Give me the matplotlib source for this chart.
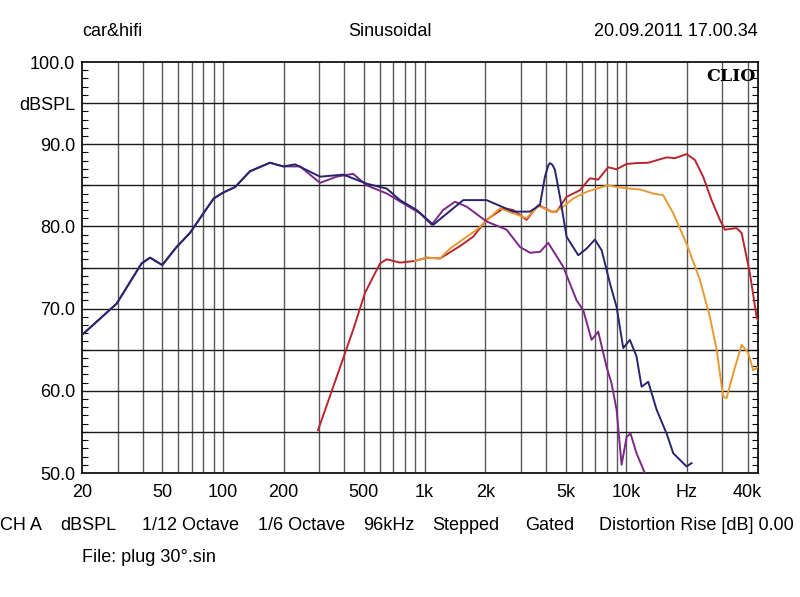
import matplotlib
matplotlib.use("Agg")
import matplotlib.pyplot as plt
import numpy as np

plt.rcParams['font.family'] = ['Liberation Sans', 'DejaVu Sans']

# navy curve (on axis, woofer+mid)
f_navy = [20, 29.7, 39.5, 43.5, 50, 58.9, 68.6, 80, 90, 100, 115, 136, 171, 199, 228,
          303, 395, 516, 649, 755, 913, 1104, 1236, 1555, 2029, 2750, 3328, 3732,
          3950, 4100, 4180, 4300, 4426, 4688, 5058, 5778, 6357, 6988, 7548, 8294, 8954, 9660,
          10420, 11240, 11910, 12850, 14140, 15850, 17100, 19900, 21080]
db_navy = [66.8, 70.6, 75.5, 76.2, 75.3, 77.5, 79.2, 81.6, 83.4, 84.1, 84.8, 86.7, 87.75, 87.3, 87.55,
           86.05, 86.3, 85.2, 84.6, 83.2, 82.0, 80.2, 81.2, 83.2, 83.2, 81.8, 81.8, 82.6,
           86.05, 87.4, 87.7, 87.5, 86.9, 83.6, 78.75, 76.5, 77.3, 78.4, 77.1, 73.1, 70.2, 65.2,
           66.2, 64.2, 60.5, 61.1, 57.7, 54.8, 52.4, 50.8, 51.2]

# purple curve (off axis)
f_purple = [20, 29.7, 39.5, 43.5, 50, 58.9, 68.6, 80, 90, 100, 115, 136, 171, 199, 241,
            303, 366, 442, 516, 649, 784, 948, 1084, 1236, 1414, 1616, 2029, 2552,
            2970, 3328, 3732, 4100, 4866, 5674, 6120, 6730, 7260, 7987, 8454, 8954,
            9480, 10040, 10500, 11240, 12360]
db_purple = [66.8, 70.6, 75.5, 76.2, 75.3, 77.5, 79.2, 81.6, 83.4, 84.1, 84.8, 86.7, 87.75, 87.3, 87.3,
             85.3, 86.05, 86.4, 85.0, 84.0, 82.8, 81.6, 80.2, 82.0, 83.0, 82.4, 80.6, 79.6,
             77.5, 76.8, 76.9, 78.0, 75.1, 71.0, 69.8, 66.2, 67.2, 62.9, 60.9, 57.7,
             51.0, 54.4, 54.8, 52.4, 50.0]

# red curve (tweeter on axis)
f_red = [296, 442, 506, 601, 649, 755, 896, 1024, 1192, 1496, 1742, 2029, 2454, 2750,
         3204, 3658, 4264, 4514, 5058, 5888, 6600, 7260, 8130, 8954, 10040, 11240,
         12850, 15850, 17420, 19900, 21880, 24060, 26480, 29120, 30840, 35240, 37320,
         41020, 44280, 45000]
db_red = [55.2, 67.4, 71.9, 75.5, 76.0, 75.6, 75.8, 76.2, 76.1, 77.6, 78.75, 80.8, 82.2, 82.0,
          80.8, 82.6, 81.8, 81.8, 83.6, 84.4, 85.85, 85.7, 87.2, 86.95, 87.6, 87.7,
          87.75, 88.4, 88.3, 88.8, 88.1, 86.05, 83.2, 80.8, 79.6, 79.8, 79.2,
          74.3, 69.0, 68.6]

# orange curve (tweeter off axis)
f_orange = [896, 1024, 1192, 1336, 1812, 2361, 2750, 3204, 3658, 4344, 4866, 5458, 6357,
            7128, 8130, 8954, 10420, 11690, 13600, 15240, 17100, 19900, 23180, 25980,
            28060, 30240, 31420, 33900, 37320, 40240, 42600, 45000]
db_orange = [75.8, 76.2, 76.1, 77.3, 79.6, 82.2, 81.6, 81.0, 82.5, 81.7, 82.4, 83.4, 84.2,
             84.6, 85.0, 84.8, 84.6, 84.5, 84.0, 83.8, 81.6, 77.9, 73.5, 69.0,
             65.0, 59.3, 59.1, 62.1, 65.6, 64.6, 62.5, 62.9]

x_ticks = [20, 50, 100, 200, 500, 1000, 2000, 5000, 10000, 20000, 40000]
x_labels = ['20', '50', '100', '200', '500', '1k', '2k', '5k', '10k', 'Hz', '40k']
y_ticks = [50, 60, 70, 80, 90, 95, 100]
y_labels = ['50.0', '60.0', '70.0', '80.0', '90.0', 'dBSPL', '100.0']

fs = 13

fig = plt.figure(figsize=(8, 5.97), dpi=100)
ax = fig.add_axes([0.1025, 0.2077, 0.845, 0.6884])
ax.set_xscale('log')
ax.set_xlim(20, 45000)
ax.set_ylim(50, 100)

# grid
for f in [30, 40, 50, 60, 70, 80, 90, 100, 200, 300, 400, 500, 600, 700, 800, 900,
          1000, 2000, 3000, 4000, 5000, 6000, 7000, 8000, 9000, 10000, 20000, 30000, 40000]:
    ax.axvline(f, color='#5a5a5a', lw=1.0, zorder=1)
for d in range(55, 100, 5):
    ax.axhline(d, color='#1a1a1a', lw=1.0, zorder=1)

ax.plot(f_red, db_red, color='#b8262e', lw=1.4, zorder=3)
ax.plot(f_orange, db_orange, color='#e89a30', lw=1.4, zorder=3)
ax.plot(f_purple, db_purple, color='#7a2a86', lw=1.4, zorder=4)
ax.plot(f_navy, db_navy, color='#28246e', lw=1.4, zorder=5)

ax.set_xticks(x_ticks)
ax.set_xticklabels(x_labels)
ax.xaxis.set_minor_locator(matplotlib.ticker.NullLocator())
ax.set_yticks(y_ticks)
ax.set_yticklabels(y_labels)
ax.set_yticks(np.arange(50, 101, 1), minor=True)
ax.tick_params(axis='x', length=0, pad=8, labelsize=fs)
ax.tick_params(axis='y', which='major', length=0, pad=5, labelsize=fs)
ax.tick_params(axis='y', which='minor', direction='in', length=4, right=True, width=0.8)
for s in ax.spines.values():
    s.set_linewidth(1.3)
    s.set_color('#111111')

ax.text(0.997, 0.985, 'CLIO', transform=ax.transAxes, ha='right', va='top',
        fontsize=12.5, fontweight='bold', family='DejaVu Serif', zorder=6)

fig.text(82 / 800, 1 - 32 / 597, 'car&hifi', ha='left', va='center', fontsize=fs)
fig.text(390 / 800, 1 - 32 / 597, 'Sinusoidal', ha='center', va='center', fontsize=fs)
fig.text(758 / 800, 1 - 32 / 597, '20.09.2011 17.00.34', ha='right', va='center', fontsize=fs)

bottom_words = ['CH A', 'dBSPL', '1/12 Octave', '1/6 Octave', '96kHz', 'Stepped', 'Gated',
                'Distortion Rise [dB] 0.00']
bottom_x = [0, 60, 142, 258, 363, 432, 525, 599]
for w, xp in zip(bottom_words, bottom_x):
    fig.text(xp / 800, 1 - 525 / 597, w, ha='left', va='center', fontsize=fs)
fig.text(82 / 800, 1 - 557 / 597, 'File: plug 30°.sin', ha='left', va='center', fontsize=fs)

fig.savefig('out.png', dpi=100, facecolor='white')
